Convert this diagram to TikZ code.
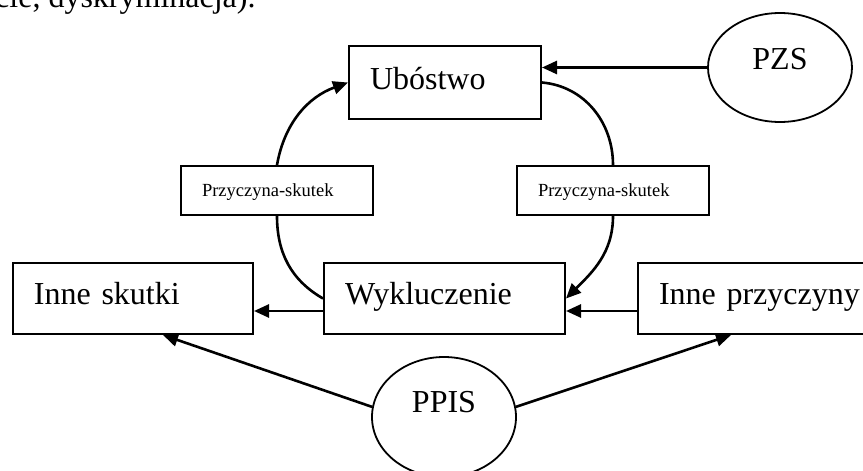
\documentclass[tikz,border=0pt]{standalone}
\usepackage{fontspec}
\setmainfont{Liberation Serif}
\usetikzlibrary{arrows.meta}
\usetikzlibrary{shapes.geometric}

\begin{document}
\begin{tikzpicture}[x=1pt,y=1pt,>={Triangle[length=15pt,width=13pt]}]
	\tikzset{box/.style = {shape=rectangle, draw, line width=2pt, anchor=north west, align=left, inner xsep=21pt, inner ysep=10pt, text height=31pt, text depth=20pt, font=\fontsize{32}{38}\selectfont}}
	\tikzset{smallbox/.style = {box, inner ysep=6pt, text height=24pt, text depth=13pt, font=\fontsize{18.5}{22}\selectfont}}
	\tikzset{oval/.style = {shape=ellipse, draw, line width=1.8pt, inner sep=0pt, minimum width=144pt, text height=22pt, font=\fontsize{32}{38}\selectfont}}
	\tikzset{arr/.style = {->, line width=2.6pt}}
	\clip (0,0) rectangle (863,-471);
	
	% end of the text line above the diagram
	\node[anchor=base west, inner sep=0pt, font=\fontsize{32}{38}\selectfont] (txt) at (-5,-7) {cie, dyskryminacja).};
	
	\node[box, text width=150pt, text height=33pt] (ub) at (348,-45) {Ubóstwo};
	\node[smallbox, text width=150pt] (ps1) at (180,-165) {Przyczyna-skutek};
	\node[smallbox, text width=150pt] (ps2) at (516,-165) {Przyczyna-skutek};
	\node[box, text width=198pt] (is) at (12,-262) {Inne skutki};
	\node[box, text width=199pt] (wyk) at (323,-262) {Wykluczenie};
	\node[box, text width=230pt] (ip) at (637,-262) {Inne przyczyny};
	\node[oval, minimum height=109pt, text depth=19pt] (pzs) at (780,-67.5) {PZS};
	\node[oval, minimum height=120pt, text depth=32pt] (ppis) at (444,-417) {PPIS};
	
	\draw[arr] (pzs) -- (pzs -| ub.east);
	\draw[line width=2.6pt] (wyk.west) to[out=150,in=-90] (ps1.south);
	\draw[arr] (ps1.north) to[out=80,in=-160] (ub.west);
	\draw[line width=2.6pt] (ub.east) to[out=-5,in=90] (ps2.south |- ps2.north);
	\draw[arr] (ps2.south) to[out=-90,in=45] (wyk.east);
	\draw[arr] ([yshift=-12.5pt]wyk.west) -- ([yshift=-12.5pt]is.east);
	\draw[arr] ([yshift=-12.5pt]ip.west) -- ([yshift=-12.5pt]wyk.east);
	\draw[arr] (ppis.172) -- ([xshift=30pt]is.south);
	\draw[arr] (ppis.8) -- ([xshift=-43pt]ip.south);
	
\end{tikzpicture}
\end{document}
